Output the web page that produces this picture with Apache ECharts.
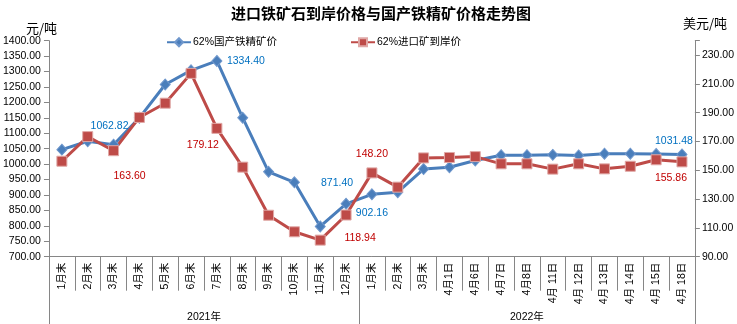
<!DOCTYPE html>
<html>
<head>
<meta charset="utf-8">
<script src="https://cdn.jsdelivr.net/npm/echarts@6/dist/echarts.min.js"></script>
<style>html,body{margin:0;padding:0;background:#fff}#c{width:737px;height:324px}</style>
</head>
<body>
<div id="c"></div>
<script>
var categories = ['1月末','2月末','3月末','4月末','5月末','6月末','7月末','8月末','9月末','10月末','11月末','12月末',
  '1月末','2月末','3月末','4月1日','4月6日','4月7日','4月8日','4月 11日','4月 12日','4月 13日','4月 14日','4月 15日','4月 18日'];
var years = ['2021年','2022年'];
var yearCounts = [12, 13];
var domesticName = '62%国产铁精矿价';
var importName = '62%进口矿到岸价';
var domestic = [1047, 1074, 1062.82, 1150, 1258, 1304, 1334.40, 1150, 975, 941, 798, 871.40, 902.16, 909, 984, 990, 1012, 1029, 1029, 1030, 1028, 1034, 1034, 1033, 1031.48];
var imported = [156.3, 173.4, 163.60, 186.7, 196.6, 217.3, 179.12, 152.2, 118.8, 107.3, 101.5, 118.94, 148.20, 138.3, 158.6, 158.9, 159.5, 154.5, 154.5, 150.8, 154.5, 151.0, 152.8, 157.3, 155.86];
var domesticLabeled = {2: [-4, -19], 6: [29, 0], 11: [-9, -21], 12: [0, 19], 24: [-8, -13]};
var importLabeled = {2: [16, 25], 6: [-14, 17], 11: [14, 23], 12: [0, -19], 24: [-11, 16]};
var leftTicks = {min: 700, max: 1400, step: 50};
var rightTicks = {min: 90, max: 240, step: 20};

var FONT = '"Liberation Sans", "Noto Sans CJK SC", sans-serif';
var AXIS_GRAY = '#868686';

function buildData(vals, labeled, color) {
  return vals.map(function (v, i) {
    if (labeled[i]) {
      return {value: v, label: {show: true, position: 'inside', offset: labeled[i], color: color,
        fontSize: 10.5, fontFamily: FONT, formatter: function (p) { return Number(p.value).toFixed(2); }}};
    }
    return v;
  });
}

var yearCenters = [];
(function () { var s = 0; yearCounts.forEach(function (c) { yearCenters.push(s + c / 2); s += c; }); })();
var boundaries = [0];
(function () { var s = 0; yearCounts.forEach(function (c) { s += c; boundaries.push(s); }); })();

var chart = echarts.init(document.getElementById('c'), null, {renderer: 'canvas'});
chart.setOption({
  animation: false,
  backgroundColor: '#fff',
  title: {text: '进口铁矿石到岸价格与国产铁精矿价格走势图', left: 226, top: 1,
    textStyle: {fontSize: 15, fontWeight: 'bold', color: '#000', fontFamily: '"Noto Sans CJK SC", sans-serif'}},
  graphic: [
    {type: 'text', left: 26, top: 22, style: {text: '元/吨', fill: '#000', font: '13px "Noto Sans CJK SC", sans-serif'}},
    {type: 'text', left: 683, top: 17, style: {text: '美元/吨', fill: '#000', font: '13px "Noto Sans CJK SC", sans-serif'}}
  ],
  legend: [
    {data: [domesticName], left: 161, top: 32, itemWidth: 24, itemHeight: 10, itemGap: 0,
      textStyle: {fontSize: 10.5, color: '#000', fontFamily: FONT, padding: [0, 0, 0, -3]}},
    {data: [importName], left: 345, top: 32, itemWidth: 24, itemHeight: 10, itemGap: 0,
      textStyle: {fontSize: 10.5, color: '#000', fontFamily: FONT, padding: [0, 0, 0, -3]}}
  ],
  grid: {left: 46.5, right: 41, top: 40.7, bottom: 67.3, containLabel: false},
  xAxis: [
    {type: 'category', data: categories, boundaryGap: true, position: 'bottom',
      axisLine: {lineStyle: {color: AXIS_GRAY, width: 1}},
      axisTick: {show: true, interval: 0, length: 34, lineStyle: {color: AXIS_GRAY}},
      axisLabel: {interval: 0, rotate: 90, margin: 6, fontSize: 10.5, color: '#000', fontFamily: FONT}},
    {type: 'category', data: categories, boundaryGap: true, position: 'bottom',
      axisLine: {show: false},
      axisTick: {show: true, length: 68, lineStyle: {color: AXIS_GRAY},
        interval: function (idx) { return boundaries.indexOf(idx) >= 0; }},
      axisLabel: {show: false}},
    {type: 'value', min: 0, max: categories.length, interval: 0.5, position: 'bottom',
      axisLine: {show: false}, axisTick: {show: false}, splitLine: {show: false},
      axisLabel: {margin: 55, fontSize: 10.5, color: '#000', fontFamily: FONT,
        showMinLabel: true, showMaxLabel: true,
        formatter: function (v) { var k = yearCenters.indexOf(v); return k >= 0 ? years[k] : ''; }}}
  ],
  yAxis: [
    {type: 'value', min: leftTicks.min, max: leftTicks.max, interval: leftTicks.step, position: 'left',
      axisLine: {show: true, lineStyle: {color: AXIS_GRAY}},
      axisTick: {show: true, length: 5, lineStyle: {color: AXIS_GRAY}},
      splitLine: {show: false},
      axisLabel: {margin: 8, fontSize: 10.5, color: '#000', fontFamily: FONT,
        formatter: function (v) { return v.toFixed(2); }}},
    {type: 'value', min: rightTicks.min, max: rightTicks.max, interval: rightTicks.step, position: 'right',
      axisLine: {show: true, lineStyle: {color: AXIS_GRAY}},
      axisTick: {show: true, length: 5, lineStyle: {color: AXIS_GRAY}},
      splitLine: {show: false},
      axisLabel: {margin: 7, fontSize: 10.5, color: '#000', fontFamily: FONT,
        formatter: function (v) { return v >= rightTicks.max ? '' : v.toFixed(2); }}}
  ],
  series: [
    {name: domesticName, type: 'line', xAxisIndex: 0, yAxisIndex: 0,
      data: buildData(domestic, domesticLabeled, '#0070C0'),
      symbol: 'diamond', symbolSize: [10, 11],
      lineStyle: {color: '#4A7EBB', width: 3},
      itemStyle: {color: '#4A7EBB', borderColor: '#6F97CC', borderWidth: 1},
      label: {show: false}},
    {name: importName, type: 'line', xAxisIndex: 0, yAxisIndex: 1,
      data: buildData(imported, importLabeled, '#C00000'),
      symbol: 'rect', symbolSize: 10,
      lineStyle: {color: '#BE4B48', width: 3},
      itemStyle: {color: '#BE4B48', borderColor: '#E0A8A6', borderWidth: 1},
      label: {show: false}}
  ]
});
</script>
</body>
</html>
